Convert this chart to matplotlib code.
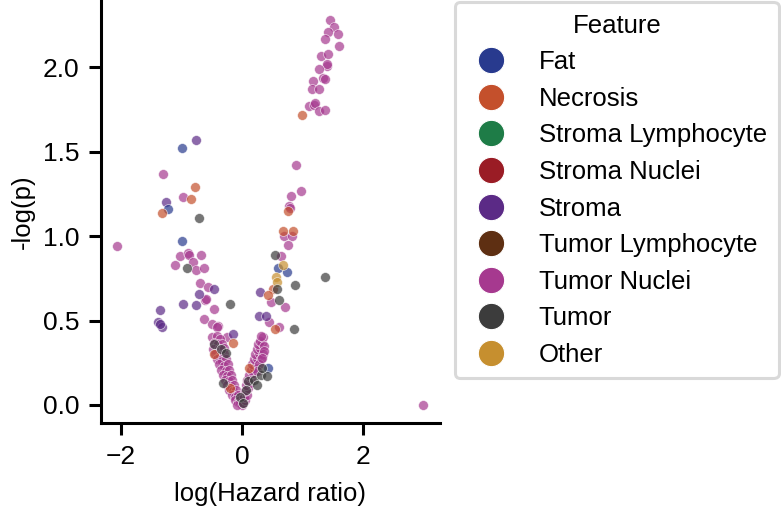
import matplotlib
matplotlib.use("Agg")
import matplotlib.pyplot as plt
from matplotlib.lines import Line2D

plt.rcParams['font.family'] = ['Liberation Sans', 'DejaVu Sans']

# ================= DATA =================
features = ["Fat", "Necrosis", "Stroma Lymphocyte", "Stroma Nuclei", "Stroma",
            "Tumor Lymphocyte", "Tumor Nuclei", "Tumor", "Other"]
colors = ["#283a8e", "#c4502c", "#1e7c47", "#9a1c25", "#5b2a86",
          "#5e2f12", "#a6398f", "#3c3c3c", "#c68f2f"]

tumor_nuclei_x = [1.46, 1.52, 1.42, 1.59, 1.37, 1.60, 1.30, 1.42, 1.40, 1.41, 1.27, 1.34, 1.37,
                  1.17, 1.15, 1.27, 1.11, 1.19, 1.21, 1.27, 1.37,
                  0.89, 0.98, 0.81, 0.78, 0.79, 0.70, 0.82, 0.76, 0.64, 0.48, 0.71, 0.45, 0.61,
                  -1.31, -0.98, -2.07, -1.02, -0.89, -0.88, -0.68, -0.81, -1.11, -0.76, -0.63,
                  -0.69, -0.56, -0.61, -0.60, -0.46, -0.63, -0.50, -0.40, -0.41, -0.25,
                  2.99,
                  -0.50, -0.42, -0.36, -0.46, -0.40, -0.33, -0.48, -0.38, -0.30, -0.44, -0.36,
                  -0.29, -0.42, -0.33, -0.26, -0.38, -0.30, -0.24, -0.35, -0.27, -0.21, -0.32,
                  -0.25, -0.19, -0.28, -0.21, -0.16, -0.25, -0.18, -0.13, -0.21, -0.15, -0.10,
                  -0.17, -0.11, -0.07, -0.12, -0.07, -0.03, -0.04, 0.00, -0.08,
                  0.02, 0.05, 0.03, 0.08, 0.05, 0.10, 0.07, 0.13, 0.09, 0.15, 0.12, 0.18,
                  0.14, 0.20, 0.17, 0.23, 0.19, 0.25, 0.22, 0.28, 0.24, 0.30, 0.27, 0.33,
                  0.29, 0.35, 0.31, 0.36, 0.34, 0.31, 0.28, 0.25, 0.37, 0.33]
tumor_nuclei_y = [2.28, 2.24, 2.21, 2.20, 2.17, 2.13, 2.07, 2.08, 2.01, 2.02, 1.99, 1.94, 1.93,
                  1.92, 1.87, 1.87, 1.77, 1.78, 1.79, 1.74, 1.75,
                  1.42, 1.27, 1.24, 1.18, 1.17, 1.00, 1.00, 0.95, 0.88, 0.61, 0.58, 0.49, 0.46,
                  1.37, 1.23, 0.94, 0.88, 0.90, 0.89, 0.89, 0.85, 0.83, 0.80, 0.81,
                  0.72, 0.70, 0.62, 0.63, 0.57, 0.51, 0.48, 0.47, 0.46, 0.40,
                  0.00,
                  0.40, 0.41, 0.39, 0.37, 0.36, 0.36, 0.33, 0.33, 0.34, 0.30, 0.29,
                  0.30, 0.27, 0.26, 0.27, 0.24, 0.23, 0.24, 0.21, 0.20, 0.21, 0.18,
                  0.17, 0.18, 0.15, 0.14, 0.15, 0.12, 0.11, 0.12, 0.09, 0.08, 0.09,
                  0.06, 0.05, 0.06, 0.03, 0.02, 0.03, 0.01, 0.00, 0.00,
                  0.01, 0.03, 0.05, 0.06, 0.08, 0.10, 0.12, 0.13, 0.15, 0.16, 0.18, 0.19,
                  0.21, 0.22, 0.24, 0.25, 0.27, 0.28, 0.30, 0.31, 0.33, 0.34, 0.36, 0.37,
                  0.38, 0.40, 0.41, 0.35, 0.30, 0.27, 0.24, 0.20, 0.32, 0.28]

stroma_x = [-0.76, -1.26, -0.46, -0.71, -0.97, -0.76, -1.36, -1.39, -1.32, -1.35, -0.15,
            0.30, 0.28, 0.40]
stroma_y = [1.57, 1.20, 0.69, 0.66, 0.60, 0.59, 0.56, 0.49, 0.46, 0.48, 0.42,
            0.67, 0.53, 0.53]

fat_x = [-0.99, -1.22, -0.99, 0.59, 0.75, 0.43]
fat_y = [1.52, 1.16, 0.97, 0.81, 0.79, 0.22]

necrosis_x = [-0.78, -0.84, -1.32, 0.99, 0.76, 0.67, 0.84, 0.51, 0.43, 0.55, -0.15, -0.47,
              0.12, -0.20]
necrosis_y = [1.29, 1.22, 1.14, 1.72, 1.15, 1.03, 1.03, 0.69, 0.65, 0.45, 0.37, 0.30,
              0.22, 0.10]

other_x = [0.68, 0.56, 0.57]
other_y = [0.83, 0.76, 0.73]

tumor_x = [-0.71, -0.91, -0.20, 0.55, 0.57, 0.88, 1.37, 0.61, 0.86,
           -0.46, -0.35, -0.27, -0.31, 0.10, 0.19, 0.24, 0.31, 0.41, 0.33, 0.07,
           -0.03, 0.02]
tumor_y = [1.11, 0.81, 0.60, 0.89, 0.69, 0.71, 0.76, 0.62, 0.45,
           0.36, 0.33, 0.31, 0.13, 0.14, 0.15, 0.12, 0.18, 0.17, 0.22, 0.09,
           0.05, 0.01]

series = {
    "Tumor Nuclei": (tumor_nuclei_x, tumor_nuclei_y),
    "Stroma": (stroma_x, stroma_y),
    "Fat": (fat_x, fat_y),
    "Necrosis": (necrosis_x, necrosis_y),
    "Other": (other_x, other_y),
    "Tumor": (tumor_x, tumor_y),
}
color_of = dict(zip(features, colors))

# ================= PLOT =================
fig = plt.figure(figsize=(7.81, 5.14), dpi=100)
ax = fig.add_axes([0.1293, 0.177, 0.4341, 0.823])

for name, (xs, ys) in series.items():
    ax.scatter(xs, ys, s=50, color=color_of[name], alpha=0.7,
               edgecolor="white", linewidth=0.5)

ax.set_xlim(-2.33, 3.27)
ax.set_ylim(-0.107, 2.40)
ax.set_xticks([-2, 0, 2])
ax.set_yticks([0.0, 0.5, 1.0, 1.5, 2.0])
ax.set_xlabel("log(Hazard ratio)", fontsize=18.5, labelpad=10)
ax.set_ylabel("-log(p)", fontsize=18.5, labelpad=6)
for side in ["top", "right"]:
    ax.spines[side].set_visible(False)
for side in ["left", "bottom"]:
    ax.spines[side].set_linewidth(2.2)
ax.tick_params(labelsize=19, width=2.2, length=8.5, pad=7)

handles = [Line2D([], [], marker="o", linestyle="", markersize=19,
                  markerfacecolor=c, markeredgecolor="white", markeredgewidth=0.8)
           for c in colors]
leg = ax.legend(handles, features, title="Feature", fontsize=18.5, title_fontsize=18.5,
                loc="upper left", bbox_to_anchor=(0.583, 0.996),
                bbox_transform=fig.transFigure, frameon=True, fancybox=True,
                borderaxespad=0, handletextpad=0.9, labelspacing=0.49,
                borderpad=0.45, handlelength=1.9)
leg.get_frame().set_edgecolor("#d0d0d0")
leg.get_frame().set_linewidth(2.2)

fig.savefig("out.png", dpi=100)
